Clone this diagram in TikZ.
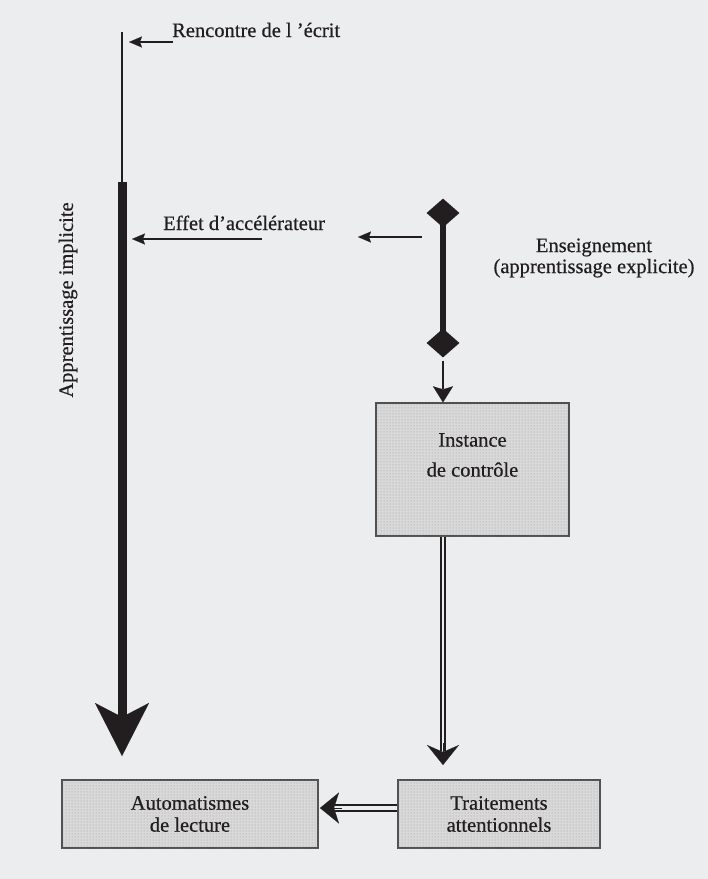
\documentclass[tikz,border=0pt]{standalone}
\usepackage{fontspec}
\setmainfont{Liberation Serif}
\newfontfamily\scanfont[FakeBold=0.6]{Liberation Serif}
\usetikzlibrary{arrows.meta,shapes.geometric,patterns,calc}
\definecolor{ink}{RGB}{34,30,32}
\definecolor{paper}{RGB}{235,237,238}
\definecolor{boxline}{RGB}{80,80,80}
\begin{document}
\begin{tikzpicture}[x=1pt,y=-1pt,
  txt/.style={text=ink, font=\scanfont\fontsize{20.5}{21}\selectfont, inner sep=0pt},
  box/.style={draw=boxline, line width=1.3pt, fill=gray!30,
    postaction={pattern=dots, pattern color=gray!80}, inner sep=0pt,
    text=ink, align=center, font=\scanfont\fontsize{20.5}{22}\selectfont},
  thinarrow/.style={draw=ink, line width=2pt,
    -{Stealth[length=13pt 0, width=11pt 0, inset=2pt 0, line width=0.1pt]}},
  dblv/.style={draw=ink, double=paper, line width=1.8pt, double distance=2.4pt},
  dblh/.style={draw=ink, double=paper, line width=2.6pt, double distance=3.6pt},
  gem/.style={diamond, fill=ink, inner sep=0pt, minimum width=33pt, minimum height=29pt}
]
\fill[paper] (0,0) rectangle (708,879);
\useasboundingbox (0,0) rectangle (708,879);

% texts
\node[txt, anchor=base west] (renc) at (172,37) {Rencontre de l ’écrit};
\node[txt, anchor=base west] (effet) at (163,230) {Effet d’accélérateur};
\node[txt, rotate=90] (impl) at (68,300) {Apprentissage implicite};
\node[txt, align=center] (ens) at (594,258) {Enseignement\\(apprentissage explicite)};

% diamonds
\node[gem] (d1) at (443,213) {};
\node[gem] (d2) at (443,343) {};

% boxes
\node[box, minimum width=193pt, minimum height=133pt] (inst) at (472.5,469.5) {};
\node[txt, align=center, font=\scanfont\fontsize{20.5}{30}\selectfont] (instt) at (472.5,455) {Instance\\de contrôle};
\node[box, minimum width=256pt, minimum height=68pt] (auto) at (190,814) {Automatismes\\de lecture};
\node[box, minimum width=202pt, minimum height=68pt] (trait) at (499,814) {Traitements\\attentionnels};

% left main line
\coordinate (ltop) at (122,32);
\coordinate (lmid) at (122,182);
\coordinate (ltip) at (122,756);
\draw[ink, line width=2pt] (ltop) -- (lmid);
\draw[ink, line width=9pt,
  -{Stealth[length=53pt 0, width=54pt 0, inset=14pt 0, line width=0.1pt]}] (lmid) -- (ltip);

% small arrows
\coordinate (ra) at (173,42);
\coordinate (rb) at (129,42);
\draw[thinarrow] (ra) -- (rb);
\coordinate (ea) at (262,239);
\coordinate (eb) at (132,239);
\draw[thinarrow] (ea) -- (eb);
\coordinate (sa) at (422,237);
\coordinate (sb) at (358,237);
\draw[thinarrow] (sa) -- (sb);

% teaching bar
\draw[ink, line width=6pt] (d1.center) -- (d2.center);
\draw[ink, line width=1.5pt, shorten <=3pt,
  -{Stealth[length=16pt 0, width=20pt 0, inset=3pt 0, line width=0.1pt]}]
  (d2.south) -- (d2.south |- inst.north);

% instance -> traitements (double)
\coordinate (vt) at (443,765);
\draw[dblv] (d2.south |- inst.south) -- ($(vt)+(0,-14)$);
\draw[ink, line width=1pt,
  -{Stealth[length=20pt 0, width=32pt 0, inset=7pt 0, line width=0.1pt]}]
  ($(vt)+(0,-22)$) -- (vt);

% traitements -> automatismes (double)
\coordinate (ht) at (320,808);
\draw[dblh] (trait.west |- ht) -- ($(ht)+(15,0)$);
\draw[ink, line width=1pt,
  -{Stealth[length=19pt 0, width=31pt 0, inset=5pt 0, line width=0.1pt]}]
  ($(ht)+(22,0)$) -- (ht);
\end{tikzpicture}
\end{document}
